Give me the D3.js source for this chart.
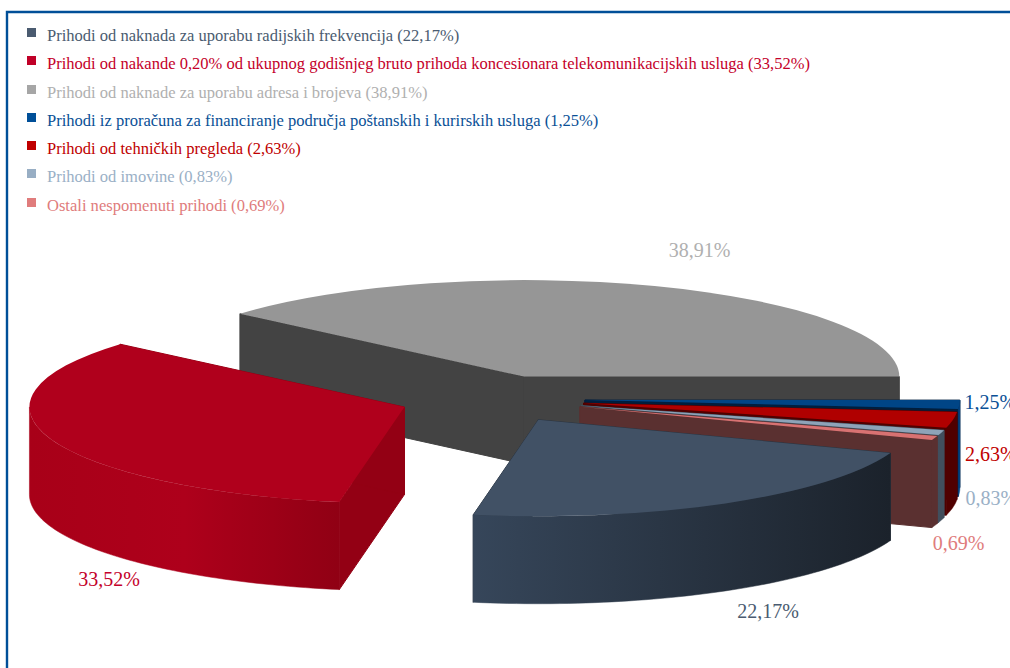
<!DOCTYPE html>
<html>
<head>
<meta charset="utf-8">
<script src="https://cdn.jsdelivr.net/npm/d3@7"></script>
<style>
    html, body { margin: 0; padding: 0; background: #fff; overflow: hidden; }
    text { font-family: "Liberation Serif", serif; }
</style>
</head>
<body>
<svg id="chart" width="1010" height="668"></svg>
<script>
// DATA
var categories = [
    "Prihodi od naknada za uporabu radijskih frekvencija",
    "Prihodi od nakande 0,20% od ukupnog godišnjeg bruto prihoda koncesionara telekomunikacijskih usluga",
    "Prihodi od naknade za uporabu adresa i brojeva",
    "Prihodi iz proračuna za financiranje područja poštanskih i kurirskih usluga",
    "Prihodi od tehničkih pregleda",
    "Prihodi od imovine",
    "Ostali nespomenuti prihodi",
];
var shares = [22.17, 33.52, 38.91, 1.25, 2.63, 0.83, 0.69];

// COLORS
var textColors = ["#4a5b70", "#c4002a", "#b0b0b0", "#0a5096", "#c00000", "#9ab0c6", "#e07c7c"];
var swatchColors = ["#4a5b70", "#c00028", "#a6a6a6", "#004f98", "#c00000", "#98aec4", "#e07c7c"];
var topColors = ["#415165", "#b0001c", "#969696", "#004586", "#b00000", "#8ea3b8", "#d87272"];
var wallColors = ["#2b3542", "#930014", "#434343", "#001f3e", "#500000", "#414f5d", "#5a3030"];
var outerStops = [
    ["#36465a", "#1b222b"],
    ["#a80018", "#ae001b", "#900014"],
    ["#434343", "#434343"],
    ["#00407f", "#00407f"],
    ["#500000", "#500000"],
    ["#414f5d", "#414f5d"],
    ["#5a3030", "#5a3030"],
];

// LAYOUT
var PIVOT_X = 492;
var PIVOT_Y = 399;
var RADIUS_X = 375;
var RADIUS_Y = 96.5;
var DEPTH = 87.5;
var EXPLODE = 0.248;
var ROTATION = 0.75 * Math.PI / 180;
var DRAW_ORDER = [2, 1, 3, 4, 5, 6, 0];
var LABEL_NUDGE = [[12, 115], [27, 146], [14, -29], [5, 4], [12, 41], [24, 72], [-2, 112]];
var LEGEND_BASELINES = [41, 69, 98, 126, 154, 182, 211];

var svg = d3.select("#chart");
var defs = svg.append("defs");

// frame, the bottom and right sides are cut off in the picture
svg.append("path")
    .attr("d", "M7,668V12H1010")
    .attr("fill", "none")
    .attr("stroke", "#004f98")
    .attr("stroke-width", 2.4);

// gray slice ends on the east side, small slices follow it clockwise
var smallTotal = d3.sum(shares.slice(3));
var startAngle = Math.PI / 2 + smallTotal / d3.sum(shares) * 2 * Math.PI + ROTATION;
var pie = d3.pie()
    .sort(null)
    .startAngle(startAngle)
    .endAngle(startAngle + 2 * Math.PI);
var slices = pie(shares);
// the seam between gray and the first small slice stays flat
slices[2].endAngle = 2.5 * Math.PI;
slices[3].startAngle = 2.5 * Math.PI;

var xOnRim = d3.scaleLinear().domain([0, 1]).range([0, RADIUS_X]);
var yOnRim = d3.scaleLinear().domain([0, 1]).range([0, RADIUS_Y]);
var topArc = d3.arc().innerRadius(0).outerRadius(RADIUS_X);
var polyline = d3.line();

function rimPoint(cx, cy, angle, drop) {
    return [cx + xOnRim(Math.sin(angle)), cy - yOnRim(Math.cos(angle)) + (drop || 0)];
}

function sliceCenter(d) {
    var mid = (d.startAngle + d.endAngle) / 2;
    return [
        PIVOT_X + EXPLODE * xOnRim(Math.sin(mid)),
        PIVOT_Y - EXPLODE * yOnRim(Math.cos(mid)),
    ];
}

function radialWall(layer, c, angle, color) {
    var a = rimPoint(c[0], c[1], angle, 0);
    var b = rimPoint(c[0], c[1], angle, DEPTH);
    layer.append("path")
        .attr("d", polyline([c, a, b, [c[0], c[1] + DEPTH]]) + "Z")
        .attr("fill", color)
        .attr("stroke", color)
        .attr("stroke-width", 1);
}

function outerWall(layer, d, c, i) {
    // only the part of the rim facing the viewer, between east and west
    var turn = Math.floor(d.startAngle / (2 * Math.PI)) * 2 * Math.PI;
    var from = Math.max(d.startAngle - turn, Math.PI / 2);
    var to = Math.min(d.endAngle - turn, 3 * Math.PI / 2);
    if (to <= from) {
        return;
    }
    var angles = d3.range(0, 61).map(function(k) {
        return from + (to - from) * k / 60;
    });
    var upper = angles.map(function(a) { return rimPoint(c[0], c[1], a, 0); });
    var lower = angles.map(function(a) { return rimPoint(c[0], c[1], a, DEPTH); }).reverse();
    var xs = upper.map(function(p) { return p[0]; });
    var grad = defs.append("linearGradient")
        .attr("id", "outer-" + i)
        .attr("gradientUnits", "userSpaceOnUse")
        .attr("x1", d3.min(xs))
        .attr("x2", d3.max(xs))
        .attr("y1", 0)
        .attr("y2", 0);
    outerStops[i].forEach(function(color, k) {
        grad.append("stop")
            .attr("offset", k / (outerStops[i].length - 1))
            .attr("stop-color", color);
    });
    layer.append("path")
        .attr("d", polyline(upper.concat(lower)) + "Z")
        .attr("fill", "url(#outer-" + i + ")")
        .attr("stroke", "url(#outer-" + i + ")")
        .attr("stroke-width", 0.5);
}

// SLICES
DRAW_ORDER.forEach(function(i) {
    var d = slices[i];
    var c = sliceCenter(d);
    var layer = svg.append("g").attr("class", "slice");
    radialWall(layer, c, d.startAngle, wallColors[i]);
    radialWall(layer, c, d.endAngle, wallColors[i]);
    outerWall(layer, d, c, i);
    layer.append("path")
        .attr("transform", "translate(" + c[0] + "," + c[1] + ") scale(1," + RADIUS_Y / RADIUS_X + ")")
        .attr("d", topArc(d))
        .attr("fill", topColors[i]);
});

// DATA LABELS
svg.append("g")
    .selectAll("text")
    .data(slices)
    .join("text")
    .attr("x", function(d, i) {
        var mid = (d.startAngle + d.endAngle) / 2;
        return rimPoint(sliceCenter(d)[0], sliceCenter(d)[1], mid)[0] + LABEL_NUDGE[i][0];
    })
    .attr("y", function(d, i) {
        var mid = (d.startAngle + d.endAngle) / 2;
        return rimPoint(sliceCenter(d)[0], sliceCenter(d)[1], mid)[1] + LABEL_NUDGE[i][1];
    })
    .attr("font-size", 20)
    .attr("fill", function(d, i) { return textColors[i]; })
    .text(function(d) { return d.value.toFixed(2).replace(".", ",") + "%"; });

// LEGEND
var legendY = d3.scaleOrdinal().domain(categories).range(LEGEND_BASELINES);
var legend = svg.append("g")
    .selectAll("g")
    .data(categories)
    .join("g")
    .attr("transform", function(d) { return "translate(0," + legendY(d) + ")"; });
legend.append("rect")
    .attr("x", 27)
    .attr("y", -13)
    .attr("width", 9)
    .attr("height", 9)
    .attr("fill", function(d, i) { return swatchColors[i]; });
legend.append("text")
    .attr("x", 47)
    .attr("font-size", 16.55)
    .attr("fill", function(d, i) { return textColors[i]; })
    .text(function(d, i) { return d + " (" + shares[i].toFixed(2).replace(".", ",") + "%)"; });
</script>
</body>
</html>
